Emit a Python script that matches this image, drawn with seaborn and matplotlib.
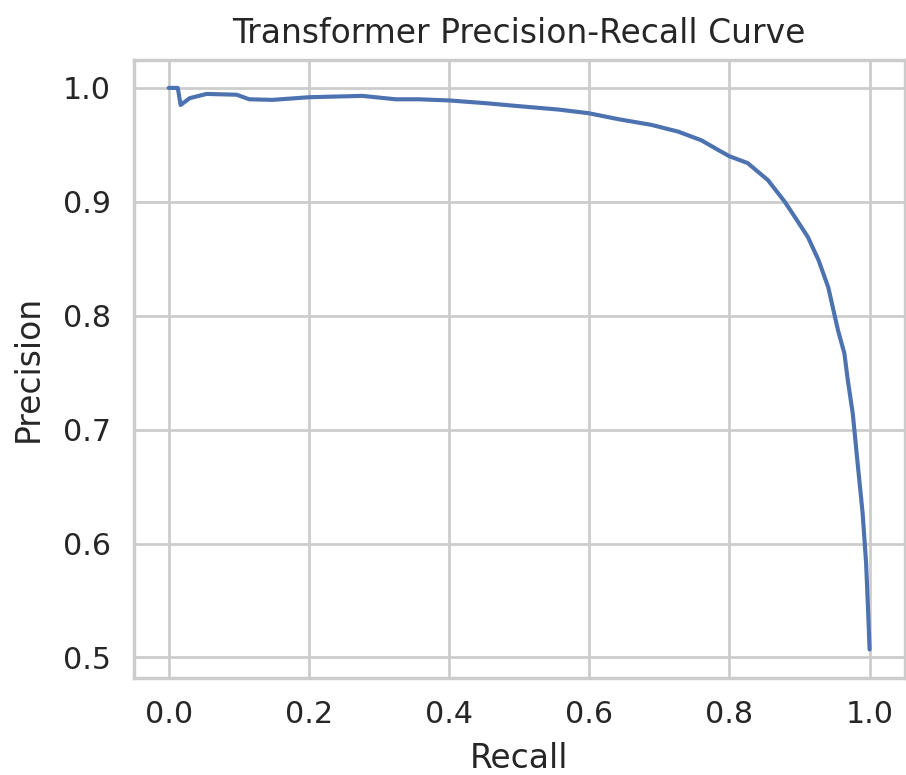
import numpy as np
import pandas as pd
import seaborn as sns
import matplotlib
matplotlib.use("Agg")
import matplotlib.pyplot as plt

recall = [0.0, 0.013, 0.017, 0.03, 0.054, 0.097, 0.115, 0.148, 0.2, 0.276, 0.324,
          0.357, 0.4, 0.452, 0.499, 0.556, 0.599, 0.642, 0.689, 0.727, 0.760, 0.784,
          0.800, 0.826, 0.855, 0.879, 0.893, 0.912, 0.927, 0.941, 0.955, 0.964,
          0.969, 0.976, 0.983, 0.990, 0.995, 0.998, 1.0]
precision = [1.0, 1.0, 0.985, 0.991, 0.9947, 0.994, 0.990, 0.9895, 0.9918, 0.993, 0.990,
             0.990, 0.989, 0.9866, 0.984, 0.981, 0.9778, 0.9725, 0.9675, 0.9616, 0.954, 0.9455,
             0.940, 0.934, 0.919, 0.900, 0.887, 0.869, 0.849, 0.825, 0.787, 0.767,
             0.743, 0.714, 0.670, 0.627, 0.583, 0.539, 0.507]

title = "Transformer Precision-Recall Curve"
xlabel = "Recall"
ylabel = "Precision"

sns.set_theme(style="whitegrid", context="talk")
plt.rcParams['font.family'] = ['DejaVu Sans']

df = pd.DataFrame({"Recall": recall, "Precision": precision})

DPI = 131.6
fig = plt.figure(figsize=(906 / DPI, 775 / DPI), dpi=DPI)
ax = fig.add_axes([0.1475, 0.1258, 0.851, 0.797])
sns.lineplot(data=df, x="Recall", y="Precision", ax=ax, color="#4c72b0",
             sort=False, estimator=None)
ax.set_title(title, pad=9)
ax.set_xlabel(xlabel, labelpad=7)
ax.set_ylabel(ylabel, labelpad=10)
ax.set_xticks([0.0, 0.2, 0.4, 0.6, 0.8, 1.0])
ax.set_yticks([0.5, 0.6, 0.7, 0.8, 0.9, 1.0])
fig.savefig("out.png", dpi=DPI)
